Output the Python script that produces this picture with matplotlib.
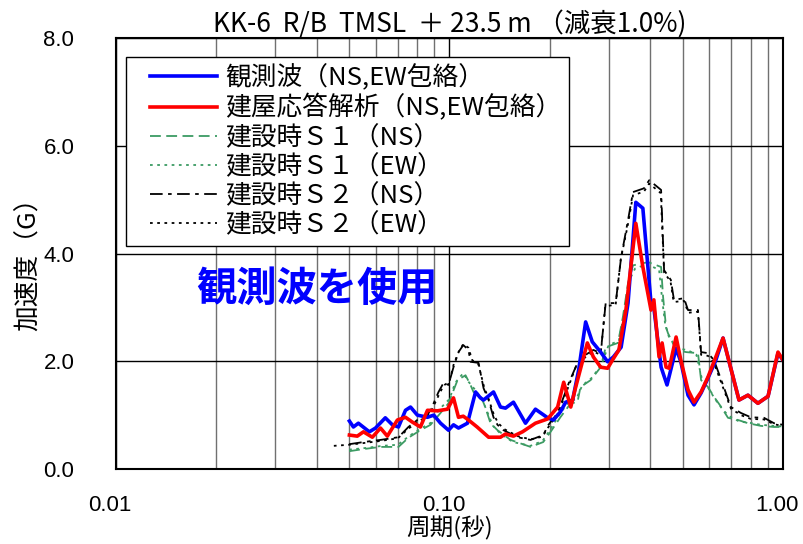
import matplotlib
matplotlib.use("Agg")
import matplotlib.pyplot as plt
import matplotlib.transforms as mtransforms
from matplotlib.legend_handler import HandlerLine2D
import numpy as np

plt.rcParams['font.family'] = ['Noto Sans CJK JP', 'DejaVu Sans']

# 観測波 (NS,EW包絡)
obs_period = [0.0501, 0.0515, 0.0533, 0.0575, 0.06, 0.0642, 0.0674, 0.0703, 0.0738, 0.0764,
              0.0801, 0.0859, 0.0897, 0.094, 0.0993, 0.1028, 0.1064, 0.1132, 0.1197, 0.1238,
              0.1265, 0.1355, 0.1422, 0.1472, 0.1555, 0.169, 0.181, 0.197, 0.205, 0.215,
              0.223, 0.234, 0.244, 0.256, 0.268, 0.284, 0.298, 0.31, 0.327, 0.343,
              0.362, 0.38, 0.402, 0.41, 0.431, 0.449, 0.478, 0.494, 0.519, 0.541,
              0.568, 0.596, 0.629, 0.661, 0.738, 0.785, 0.841, 0.902, 0.966, 1.0]
obs_acc = [0.89, 0.78, 0.85, 0.69, 0.76, 0.95, 0.82, 0.78, 1.09, 1.15,
           1.0, 0.96, 1.0, 0.85, 0.72, 0.82, 0.76, 0.85, 1.43, 1.32,
           1.28, 1.43, 1.15, 1.13, 1.24, 0.85, 1.11, 0.95, 0.91, 1.06,
           1.24, 1.28, 1.84, 2.73, 2.36, 2.17, 1.99, 2.08, 2.26, 3.08,
           4.95, 4.84, 3.08, 2.99, 1.89, 1.56, 2.24, 1.99, 1.37, 1.19,
           1.41, 1.69, 2.02, 2.43, 1.28, 1.37, 1.22, 1.35, 2.15, 2.02]

# 建屋応答解析 (NS,EW包絡)
ana_period = [0.0501, 0.0529, 0.0552, 0.0587, 0.0621, 0.0651, 0.0698, 0.0738, 0.0774, 0.0818,
              0.0859, 0.092, 0.0986, 0.1028, 0.1064, 0.11, 0.114, 0.121, 0.131, 0.1422,
              0.1472, 0.1555, 0.1655, 0.181, 0.197, 0.211, 0.22, 0.231, 0.239, 0.259,
              0.27, 0.284, 0.298, 0.308, 0.322, 0.338, 0.362, 0.38, 0.402, 0.41,
              0.425, 0.434, 0.446, 0.456, 0.478, 0.494, 0.519, 0.541, 0.568, 0.596,
              0.629, 0.661, 0.738, 0.785, 0.841, 0.902, 0.966, 1.0]
ana_acc = [0.63, 0.61, 0.69, 0.59, 0.76, 0.61, 0.91, 0.96, 0.87, 0.78,
           1.09, 1.08, 1.11, 1.32, 0.96, 0.98, 0.91, 0.78, 0.59, 0.59,
           0.65, 0.61, 0.69, 0.85, 0.93, 1.15, 1.61, 1.15, 1.52, 2.34,
           2.08, 1.89, 1.87, 2.02, 2.21, 2.95, 4.56, 3.75, 2.95, 3.14,
           2.08, 2.34, 1.89, 1.87, 2.45, 2.02, 1.47, 1.24, 1.43, 1.71,
           2.08, 2.43, 1.28, 1.37, 1.22, 1.35, 2.17, 2.02]

# 建設時S1 (NS)
s1ns_period = [0.05, 0.0552, 0.0621, 0.0703, 0.0753, 0.0818, 0.0877, 0.094, 0.0993, 0.1057,
               0.1117, 0.1156, 0.118, 0.1238, 0.128, 0.1327, 0.1393, 0.1524, 0.175, 0.191,
               0.201, 0.215, 0.231, 0.242, 0.247, 0.265, 0.284, 0.294, 0.32, 0.331,
               0.343, 0.355, 0.394, 0.431, 0.437, 0.446, 0.452, 0.478, 0.512, 0.556,
               0.568, 0.596, 0.621, 0.653, 0.684, 0.733, 0.785, 0.859, 0.94, 1.0]
s1ns_acc = [0.33, 0.37, 0.41, 0.41, 0.58, 0.72, 0.82, 1.04, 1.22, 1.65,
            1.74, 1.56, 1.43, 1.37, 1.15, 0.85, 0.72, 0.54, 0.41, 0.5,
            0.69, 0.96, 1.22, 1.24, 1.52, 1.65, 1.89, 2.26, 2.34, 2.82,
            3.45, 3.78, 3.84, 3.75, 3.19, 2.63, 2.52, 2.21, 2.17, 2.15,
            1.65, 1.52, 1.34, 1.15, 0.95, 0.91, 0.85, 0.8, 0.78, 0.78]

# 建設時S1 (EW)
s1ew_period = [0.05, 0.056, 0.063, 0.07, 0.076, 0.082, 0.088, 0.093, 0.1, 0.104,
               0.11, 0.114, 0.119, 0.125, 0.13, 0.135, 0.142, 0.155, 0.175, 0.19,
               0.2, 0.213, 0.228, 0.24, 0.25, 0.268, 0.286, 0.3, 0.322, 0.334,
               0.346, 0.36, 0.39, 0.425, 0.435, 0.443, 0.455, 0.48, 0.52, 0.55,
               0.57, 0.6, 0.625, 0.66, 0.69, 0.74, 0.79, 0.86, 0.94, 1.0]
s1ew_acc = [0.36, 0.39, 0.43, 0.45, 0.62, 0.75, 0.86, 1.1, 1.3, 1.6,
            1.78, 1.62, 1.48, 1.3, 1.05, 0.8, 0.66, 0.5, 0.43, 0.52,
            0.72, 1.0, 1.25, 1.3, 1.55, 1.7, 1.95, 2.3, 2.38, 2.9,
            3.5, 3.72, 3.8, 3.7, 3.1, 2.7, 2.45, 2.25, 2.2, 2.12,
            1.7, 1.48, 1.3, 1.1, 0.98, 0.88, 0.86, 0.82, 0.8, 0.79]

# 建設時S2 (NS)
s2ns_period = [0.05, 0.0552, 0.0621, 0.0703, 0.0753, 0.0801, 0.0859, 0.0889, 0.0927, 0.096,
               0.0993, 0.1028, 0.1064, 0.11, 0.114, 0.1156, 0.1222, 0.1265, 0.131, 0.1355,
               0.1393, 0.1452, 0.16, 0.175, 0.191, 0.198, 0.211, 0.22, 0.228, 0.242,
               0.256, 0.27, 0.284, 0.294, 0.315, 0.327, 0.343, 0.355, 0.383, 0.397,
               0.431, 0.44, 0.461, 0.471, 0.505, 0.519, 0.556, 0.568, 0.596, 0.621,
               0.653, 0.698, 0.748, 0.801, 0.877, 0.94, 1.0]
s2ns_acc = [0.46, 0.5, 0.54, 0.59, 0.78, 0.91, 1.0, 1.17, 1.43, 1.6,
            1.56, 1.89, 2.17, 2.3, 2.21, 1.99, 1.97, 1.5, 1.28, 0.96,
            0.82, 0.72, 0.59, 0.54, 0.63, 0.82, 1.04, 1.34, 1.6, 1.97,
            2.12, 2.21, 2.15, 3.08, 3.08, 3.93, 4.62, 5.14, 5.21, 5.36,
            5.18, 3.69, 3.51, 3.14, 3.17, 2.95, 2.95, 2.17, 2.15, 2.02,
            1.65, 1.15, 1.04, 0.96, 0.95, 0.85, 0.82]

# 建設時S2 (EW)
s2ew_period = [0.045, 0.05, 0.055, 0.062, 0.07, 0.075, 0.08, 0.086, 0.089, 0.093,
               0.096, 0.1, 0.103, 0.107, 0.11, 0.114, 0.117, 0.122, 0.127, 0.131,
               0.136, 0.14, 0.146, 0.16, 0.175, 0.19, 0.198, 0.21, 0.22, 0.228,
               0.24, 0.256, 0.27, 0.284, 0.293, 0.315, 0.326, 0.343, 0.355, 0.383,
               0.397, 0.43, 0.44, 0.46, 0.47, 0.505, 0.52, 0.556, 0.568, 0.596,
               0.62, 0.653, 0.698, 0.748, 0.8, 0.877, 0.94, 1.0]
s2ew_acc = [0.43, 0.45, 0.48, 0.52, 0.57, 0.74, 0.87, 0.98, 1.13, 1.38,
            1.55, 1.62, 1.95, 2.2, 2.32, 2.25, 2.02, 1.95, 1.52, 1.3,
            1.0, 0.85, 0.74, 0.61, 0.55, 0.6, 0.78, 1.0, 1.3, 1.55,
            1.92, 2.08, 2.18, 2.12, 3.02, 3.05, 3.88, 4.55, 5.08, 5.15,
            5.3, 5.12, 3.65, 3.48, 3.1, 3.12, 2.9, 2.92, 2.12, 2.1,
            1.98, 1.6, 1.12, 1.0, 0.93, 0.92, 0.83, 0.8]

labels = ['観測波（NS,EW包絡）', '建屋応答解析（NS,EW包絡）',
          '建設時Ｓ１（NS）', '建設時Ｓ１（EW）',
          '建設時Ｓ２（NS）', '建設時Ｓ２（EW）']

green = '#3c9b63'

fig = plt.figure(figsize=(8.04, 5.44), dpi=100)
ax = fig.add_axes([116/804, 1-469/544, 667/804, 431/544])

l3, = ax.plot(s1ns_period, s1ns_acc, color=green, lw=1.3, dashes=(6, 3))
l4, = ax.plot(s1ew_period, s1ew_acc, color=green, lw=1.3, dashes=(1.5, 2.5))
l5, = ax.plot(s2ns_period, s2ns_acc, color='black', lw=1.3, dashes=(7, 3, 2, 3))
l6, = ax.plot(s2ew_period, s2ew_acc, color='black', lw=1.3, dashes=(1.5, 2.5))
l1, = ax.plot(obs_period, obs_acc, color='#0000ff', lw=2.6)
l2, = ax.plot(ana_period, ana_acc, color='#ff0000', lw=2.6)

ax.set_xscale('log')
ax.set_xlim(0.01, 1.0)
ax.set_ylim(0, 8)
ax.set_xticks([0.01, 0.1, 1.0])
ax.set_xticklabels(['0.01', '0.10', '1.00'])
ax.set_xticks([k * 10.0**e for e in (-2, -1) for k in range(2, 10)], minor=True)
ax.set_xticklabels([], minor=True)
ax.set_yticks(np.arange(0, 8.1, 2))
ax.set_yticklabels(['%.1f' % v for v in np.arange(0, 8.1, 2)])
ax.tick_params(which='both', length=0)
ax.tick_params(axis='x', pad=19, labelsize=16)
ax.tick_params(axis='y', pad=30, labelsize=16)
shift = mtransforms.ScaledTranslation(-6/100, 0, fig.dpi_scale_trans)
for lab in ax.get_xticklabels():
    lab.set_family(['Liberation Sans', 'DejaVu Sans'])
    lab.set_transform(lab.get_transform() + shift)
for lab in ax.get_yticklabels():
    lab.set_family(['Liberation Sans', 'DejaVu Sans'])

ax.grid(which='minor', axis='x', color='#707070', lw=1)
ax.grid(which='major', axis='x', color='black', lw=1)
ax.grid(which='major', axis='y', color='black', lw=1)
ax.set_axisbelow(True)
for sp in ax.spines.values():
    sp.set_linewidth(1.5)

ax.set_title('KK-6  R/B  TMSL  ＋ 23.5 m （減衰1.0%)', fontsize=19, pad=3)
ax.set_xlabel('周期(秒)', fontsize=17, labelpad=0)
ax.set_ylabel('加速度（G）', fontsize=18.5)
ax.yaxis.set_label_coords(-0.111, 0.49)

ax.text(0.04, 3.34, '観測波を使用', color='#0000ff', fontsize=29,
        fontweight='bold', ha='center', va='center')

hmap = {h: HandlerLine2D(xpad=0.63) for h in (l1, l2, l3, l4, l5, l6)}
leg = ax.legend([l1, l2, l3, l4, l5, l6], labels,
                loc='upper left', bbox_to_anchor=(126/804, 1-57/544),
                bbox_transform=fig.transFigure, fontsize=18.5,
                frameon=True, fancybox=False, edgecolor='black', framealpha=1,
                handlelength=3.24, handletextpad=0.31, labelspacing=0.12,
                borderpad=0.3, borderaxespad=0, handler_map=hmap)
leg.get_frame().set_linewidth(1.0)

fig.savefig('out.png', dpi=100)
